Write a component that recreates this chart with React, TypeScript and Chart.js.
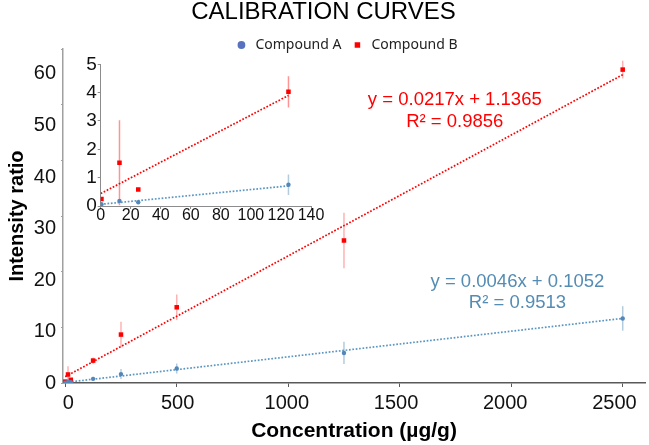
import React, { useEffect, useRef } from "react";
import { Chart, registerables } from "chart.js";

Chart.register(...registerables);

// ---------- data ----------
const concentrations = [0.5, 12.5, 25, 125, 250, 500, 1250, 2500];
const compoundA = [0.06, 0.18, 0.13, 0.75, 1.6, 2.6, 5.4, 11.6];
const errorA = [0, 0, 0, 0.36, 0.9, 0.9, 2.0, 2.2];
const compoundB = [0.25, 1.53, 0.58, 4.03, 8.7, 13.6, 25.6, 56.3];
const errorB = [0, 1.5, 0, 0.55, 2.3, 2.3, 5.0, 1.6];

const trendA = { slope: 0.0046, intercept: 0.1052, r2: 0.9513 };
const trendB = { slope: 0.0217, intercept: 1.1365, r2: 0.9856 };
const trendRange = [0, 2500];

const insetCount = 4;
const insetTrendX = [0, 125];
const insetTrendA = [0.06, 0.71];
const insetTrendB = [0.44, 3.9];

const xTicks = [0, 500, 1000, 1500, 2000, 2500];
const xTickLabels = ["0", "500", "1000", "1500", "2000", "2500"];
const yTicks = [0, 10, 20, 30, 40, 50, 60];
const yTickLabels = ["0", "10", "20", "30", "40", "50", "60"];
const insetXTicks = [0, 20, 40, 60, 80, 100, 120, 140];
const insetYTicks = [0, 1, 2, 3, 4, 5];

// ---------- styles ----------
const FONT = '"Liberation Sans", Arial, Helvetica, sans-serif';
const RED = "#FF0000";
const BLUE_POINT = "#5387BA";
const BLUE_LINE = "#5B96C2";
const BLUE_TEXT = "#548CB4";
const LEGEND_BLUE = "#5872BF";
const TICK_COLOR = "#111111";

const toPoints = (xs: number[], ys: number[]) => xs.map((x, i) => ({ x, y: ys[i] }));
const trendPoints = (t: { slope: number; intercept: number }) =>
  trendRange.map((x) => ({ x, y: t.slope * x + t.intercept }));

function makeErrorBarPlugin(sets: { datasetIndex: number; errors: number[]; color: string; width: number }[]) {
  return {
    id: "errorBars",
    beforeDatasetsDraw(chart: any) {
      const { ctx, chartArea } = chart;
      const xs = chart.scales.x;
      const ys = chart.scales.y;
      ctx.save();
      ctx.beginPath();
      ctx.rect(chartArea.left, chartArea.top, chartArea.right - chartArea.left, chartArea.bottom - chartArea.top);
      ctx.clip();
      for (const set of sets) {
        const ds = chart.data.datasets[set.datasetIndex];
        ds.data.forEach((p: any, i: number) => {
          const e = set.errors[i];
          if (!e) return;
          const px = xs.getPixelForValue(p.x);
          const y1 = ys.getPixelForValue(p.y + e);
          const y2 = ys.getPixelForValue(p.y - e);
          ctx.strokeStyle = set.color;
          ctx.lineWidth = set.width;
          ctx.beginPath();
          ctx.moveTo(px, y1);
          ctx.lineTo(px, y2);
          ctx.stroke();
        });
      }
      ctx.restore();
    },
  };
}

function makeEquationPlugin(items: { text: string; color: string; x: number; y: number }[]) {
  return {
    id: "equations",
    afterDatasetsDraw(chart: any) {
      const { ctx } = chart;
      ctx.save();
      ctx.font = `18.5px ${FONT}`;
      ctx.textAlign = "center";
      ctx.textBaseline = "middle";
      for (const t of items) {
        ctx.fillStyle = t.color;
        ctx.fillText(t.text, chart.scales.x.getPixelForValue(t.x), chart.scales.y.getPixelForValue(t.y));
      }
      ctx.restore();
    },
  };
}

// The legend sits partly over the plot top (as in the reference): shift it a little
// left and let its clip box extend downwards so the glyphs are not cut.
const legendShiftPlugin = {
  id: "legendShift",
  afterLayout(chart: any) {
    const lg = chart.legend;
    if (!lg) return;
    lg.left -= 8;
    lg.right -= 8;
    lg.bottom += 14;
    lg.height += 14;
  },
};

function pointDatasets(count?: number) {
  const xs = count ? concentrations.slice(0, count) : concentrations;
  const a = count ? compoundA.slice(0, count) : compoundA;
  const b = count ? compoundB.slice(0, count) : compoundB;
  return [
    {
      label: "Compound A",
      data: toPoints(xs, a),
      showLine: false,
      pointStyle: "circle",
      pointRadius: 2.2,
      pointBorderWidth: 0,
      pointBackgroundColor: BLUE_POINT,
      backgroundColor: BLUE_POINT,
      borderColor: BLUE_POINT,
    },
    {
      label: "Compound B",
      data: toPoints(xs, b),
      showLine: false,
      pointStyle: "rect",
      pointRadius: 3.2,
      pointBorderWidth: 0,
      pointBackgroundColor: RED,
      backgroundColor: RED,
      borderColor: RED,
    },
  ];
}

function trendDataset(label: string, data: any[], color: string) {
  return {
    label,
    data,
    showLine: true,
    pointRadius: 0,
    borderColor: color,
    backgroundColor: color,
    borderWidth: 1.7,
    borderDash: [1.7, 1.7],
    fill: false,
  };
}

function buildMainConfig(): any {
  const fixedTicks = (values: number[]) => (axis: any) => {
    axis.ticks = values.map((v) => ({ value: v }));
  };
  return {
    type: "scatter",
    data: {
      datasets: [
        ...pointDatasets(),
        trendDataset("Trend A", trendPoints(trendA), BLUE_LINE),
        trendDataset("Trend B", trendPoints(trendB), RED),
      ],
    },
    plugins: [
      makeErrorBarPlugin([
        { datasetIndex: 0, errors: errorA, color: "rgba(84,141,180,0.45)", width: 1.5 },
        { datasetIndex: 1, errors: errorB, color: "rgba(255,0,0,0.3)", width: 1.5 },
      ]),
      makeEquationPlugin([
        { text: `y = ${trendB.slope}x + ${trendB.intercept}`, color: RED, x: 1747, y: 50.85 },
        { text: `R² = ${trendB.r2}`, color: RED, x: 1747, y: 46.9 },
        { text: `y = ${trendA.slope}x + ${trendA.intercept}`, color: BLUE_TEXT, x: 2028, y: 18.2 },
        { text: `R² = ${trendA.r2}`, color: BLUE_TEXT, x: 2028, y: 14.3 },
      ]),
      legendShiftPlugin,
    ],
    options: {
      animation: false,
      responsive: false,
      maintainAspectRatio: false,
      devicePixelRatio: 1,
      events: [],
      layout: { padding: { left: 0, right: 2, top: 0, bottom: 0 } },
      plugins: {
        tooltip: { enabled: false },
        title: {
          display: true,
          text: "CALIBRATION CURVES",
          color: "#000",
          font: { family: FONT, size: 24, weight: "normal", lineHeight: 1 },
          padding: { top: 0, bottom: 5 },
        },
        legend: {
          display: true,
          position: "top",
          fullSize: false,
          maxHeight: 20,
          labels: {
            usePointStyle: true,
            boxHeight: 5.5,
            boxWidth: 14,
            padding: 9,
            color: "#222",
            font: { family: '"Noto Sans", sans-serif', size: 14 },
            generateLabels: (chart: any) => {
              const items = Chart.defaults.plugins.legend.labels.generateLabels(chart);
              return items
                .filter((it: any) => it.datasetIndex < 2)
                .map((it: any) =>
                  it.datasetIndex === 0 ? { ...it, fillStyle: LEGEND_BLUE, strokeStyle: LEGEND_BLUE } : it
                );
            },
          },
        },
      },
      scales: {
        x: {
          type: "linear",
          position: "bottom",
          weight: 0,
          min: -10,
          max: 2600,
          afterBuildTicks: fixedTicks(xTicks),
          afterFit: (s: any) => {
            s.height = 4;
          },
          ticks: { display: false },
          grid: { display: true, drawOnChartArea: false, drawTicks: true, tickLength: 4, color: "#595959" },
          border: { display: true, color: "#595959", width: 1.5 },
        },
        xl: {
          type: "linear",
          axis: "x",
          position: "bottom",
          weight: 1,
          min: -24.6,
          max: 2639.8,
          afterBuildTicks: fixedTicks(xTicks),
          afterFit: (s: any) => {
            s.height = 58;
          },
          ticks: {
            color: TICK_COLOR,
            padding: 4,
            autoSkip: false,
            maxRotation: 0,
            font: { family: FONT, size: 20, lineHeight: 1.2 },
            callback: (_v: any, i: number) => xTickLabels[i],
          },
          grid: { display: false, drawTicks: false },
          border: { display: false },
          title: {
            display: true,
            text: "Concentration (µg/g)",
            color: "#000",
            font: { family: FONT, size: 21, weight: "bold", lineHeight: 1.2 },
            padding: { top: 0, bottom: 1.4 },
          },
        },
        y: {
          type: "linear",
          position: "left",
          weight: 0,
          min: 0,
          max: 60,
          afterBuildTicks: fixedTicks(yTicks),
          afterFit: (s: any) => {
            s.width = 2;
          },
          ticks: { display: false },
          grid: { display: true, drawOnChartArea: false, drawTicks: true, tickLength: 2, color: "#a0a0a0" },
          border: { display: true, color: "#a0a0a0", width: 1.5 },
        },
        yl: {
          type: "linear",
          axis: "y",
          position: "left",
          weight: 1,
          min: 0,
          max: 64.85,
          afterBuildTicks: fixedTicks(yTicks),
          afterFit: (s: any) => {
            s.width = 61;
          },
          ticks: {
            color: TICK_COLOR,
            padding: 5,
            autoSkip: false,
            font: { family: FONT, size: 20, lineHeight: 1.2 },
            callback: (_v: any, i: number) => yTickLabels[i],
          },
          grid: { display: false, drawTicks: false },
          border: { display: false },
          title: {
            display: true,
            text: "Intensity ratio",
            color: "#000",
            font: { family: FONT, size: 20, weight: "bold", lineHeight: 1.2 },
            padding: { top: 5, bottom: 0 },
          },
        },
      },
    },
  };
}

function buildInsetConfig(): any {
  const fixedTicks = (values: number[]) => (axis: any) => {
    axis.ticks = values.map((v) => ({ value: v }));
  };
  return {
    type: "scatter",
    data: {
      datasets: [
        ...pointDatasets(insetCount),
        trendDataset("Trend A", toPoints(insetTrendX, insetTrendA), BLUE_LINE),
        trendDataset("Trend B", toPoints(insetTrendX, insetTrendB), RED),
      ],
    },
    plugins: [
      makeErrorBarPlugin([
        { datasetIndex: 0, errors: errorA.slice(0, insetCount), color: "rgba(84,141,180,0.45)", width: 1.5 },
        { datasetIndex: 1, errors: errorB.slice(0, insetCount), color: "rgba(255,0,0,0.42)", width: 1.5 },
      ]),
    ],
    options: {
      animation: false,
      responsive: false,
      maintainAspectRatio: false,
      devicePixelRatio: 1,
      events: [],
      layout: { padding: { left: 24.7, right: 16, top: 12.3, bottom: 0 } },
      plugins: {
        tooltip: { enabled: false },
        legend: { display: false },
        title: { display: false },
      },
      scales: {
        x: {
          type: "linear",
          position: "bottom",
          min: 0,
          max: 140,
          afterBuildTicks: fixedTicks(insetXTicks),
          afterFit: (s: any) => {
            s.height = 24;
          },
          ticks: {
            color: TICK_COLOR,
            padding: -1,
            autoSkip: false,
            maxRotation: 0,
            font: { family: FONT, size: 16, lineHeight: 1 },
          },
          grid: { display: true, drawOnChartArea: false, tickLength: 3, color: "#8c8c8c" },
          border: { display: true, color: "#8c8c8c", width: 1 },
        },
        y: {
          type: "linear",
          position: "left",
          min: 0,
          max: 5,
          afterBuildTicks: fixedTicks(insetYTicks),
          afterFit: (s: any) => {
            s.width = 16;
          },
          ticks: {
            color: TICK_COLOR,
            padding: 1,
            autoSkip: false,
            font: { family: FONT, size: 19, lineHeight: 1 },
          },
          grid: { display: true, drawOnChartArea: false, tickLength: 3, color: "#8c8c8c" },
          border: { display: true, color: "#8c8c8c", width: 1 },
        },
      },
    },
  };
}

export default function App() {
  const mainRef = useRef<HTMLCanvasElement | null>(null);
  const insetRef = useRef<HTMLCanvasElement | null>(null);

  useEffect(() => {
    const main = new Chart(mainRef.current as HTMLCanvasElement, buildMainConfig());
    const inset = new Chart(insetRef.current as HTMLCanvasElement, buildInsetConfig());
    return () => {
      main.destroy();
      inset.destroy();
    };
  }, []);

  return (
    <div style={{ position: "absolute", left: 0, top: 0, width: 649, height: 445, background: "#fff" }}>
      <canvas ref={mainRef} width={649} height={445} style={{ position: "absolute", left: 0, top: 0 }} />
      <canvas ref={insetRef} width={267} height={178} style={{ position: "absolute", left: 60, top: 52 }} />
    </div>
  );
}
